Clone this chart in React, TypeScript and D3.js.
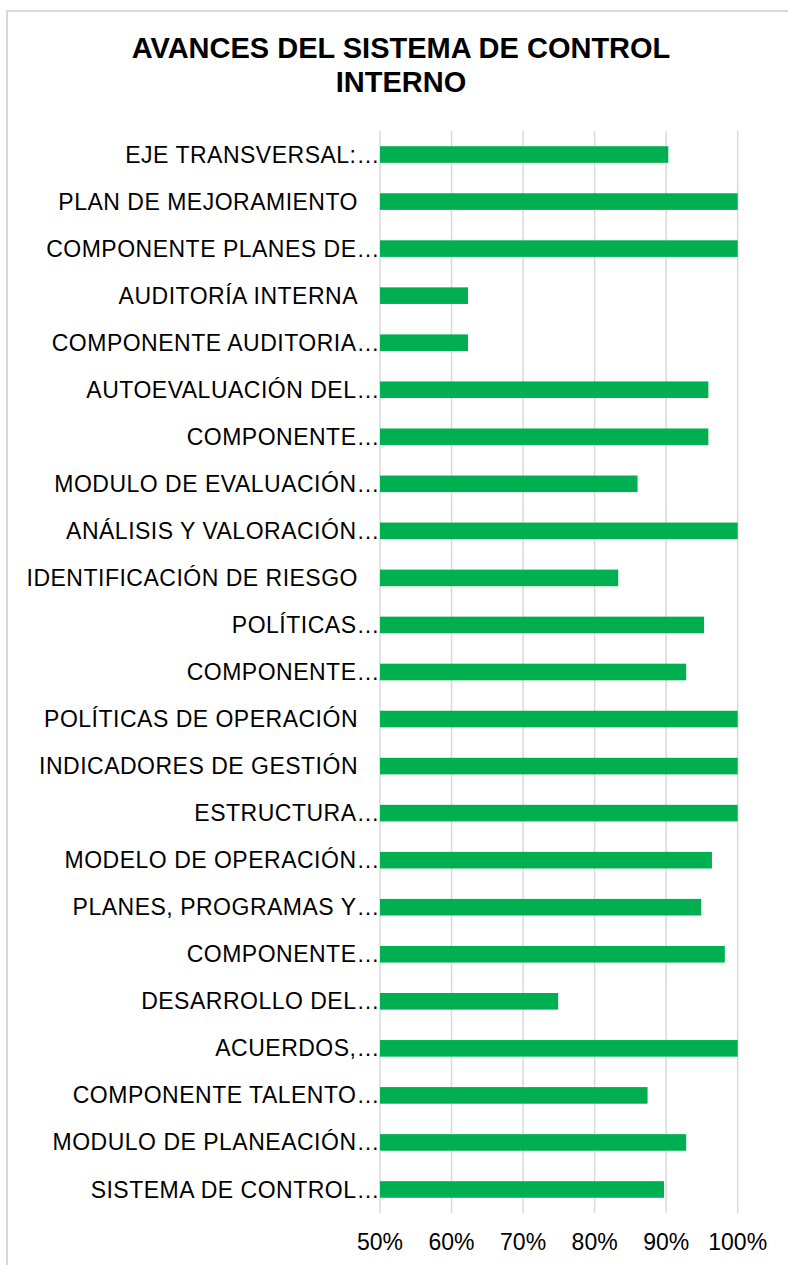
import React from "react";
import * as d3 from "d3";

const title = ["AVANCES DEL SISTEMA DE CONTROL", "INTERNO"];

const categories = [
  "EJE TRANSVERSAL:…",
  "PLAN DE MEJORAMIENTO",
  "COMPONENTE PLANES DE…",
  "AUDITORÍA INTERNA",
  "COMPONENTE AUDITORIA…",
  "AUTOEVALUACIÓN DEL…",
  "COMPONENTE…",
  "MODULO DE EVALUACIÓN…",
  "ANÁLISIS Y VALORACIÓN…",
  "IDENTIFICACIÓN DE RIESGO",
  "POLÍTICAS…",
  "COMPONENTE…",
  "POLÍTICAS DE OPERACIÓN",
  "INDICADORES DE GESTIÓN",
  "ESTRUCTURA…",
  "MODELO DE OPERACIÓN…",
  "PLANES, PROGRAMAS Y…",
  "COMPONENTE…",
  "DESARROLLO DEL…",
  "ACUERDOS,…",
  "COMPONENTE TALENTO…",
  "MODULO DE PLANEACIÓN…",
  "SISTEMA DE CONTROL…",
];

const values = [
  0.903, 1.0, 1.0, 0.623, 0.623, 0.959, 0.959, 0.86, 1.0, 0.833, 0.953,
  0.928, 1.0, 1.0, 1.0, 0.964, 0.949, 0.982, 0.749, 1.0, 0.874, 0.928, 0.897,
];

const xTicks = [0.5, 0.6, 0.7, 0.8, 0.9, 1.0];

const W = 788;
const H = 1265;
const left = 380;
const right = 737.7;
const top = 131;
const bottom = 1213;
const FONT = "Arial, 'Liberation Sans', Helvetica, sans-serif";

export default function App() {
  const x = d3.scaleLinear().domain([0.5, 1.0]).range([left, right]);
  const y = d3
    .scaleBand<number>()
    .domain(d3.range(categories.length))
    .range([top, bottom])
    .paddingInner(0.647)
    .paddingOuter(0.3235);
  const fmt = d3.format(".0%");

  return (
    <svg
      width={W}
      height={H}
      style={{ position: "absolute", left: 0, top: 0, background: "#fff" }}
      fontFamily={FONT}
    >
      <rect x={0} y={0} width={W} height={H} fill="#fff" />
      <rect
        x={7}
        y={11}
        width={W + 20}
        height={H + 20}
        fill="#fff"
        stroke="#d9d9d9"
        strokeWidth={2}
      />
      {title.map((t, i) => (
        <text
          key={i}
          x={401}
          y={58 + i * 34}
          textAnchor="middle"
          fontSize={29}
          fontWeight="bold"
          fill="#000"
        >
          {t}
        </text>
      ))}
      {xTicks.map((t) => (
        <line
          key={"g" + t}
          x1={x(t)}
          x2={x(t)}
          y1={top}
          y2={bottom}
          stroke="#d9d9d9"
          strokeWidth={1.5}
        />
      ))}
      {values.map((v, i) => (
        <rect
          key={"b" + i}
          x={x(0.5)}
          y={y(i)}
          width={x(v) - x(0.5)}
          height={y.bandwidth()}
          fill="#00B050"
        />
      ))}
      {categories.map((c, i) => (
        <text
          key={"l" + i}
          x={c.endsWith("…") ? left : left - 22}
          y={(y(i) as number) + y.bandwidth() / 2}
          dy="0.35em"
          textAnchor="end"
          fontSize={23}
          letterSpacing={0.5}
          fill="#000"
        >
          {c}
        </text>
      ))}
      {xTicks.map((t) => (
        <text
          key={"t" + t}
          x={x(t)}
          y={1250}
          textAnchor="middle"
          fontSize={23}
          fill="#000"
        >
          {fmt(t)}
        </text>
      ))}
    </svg>
  );
}
